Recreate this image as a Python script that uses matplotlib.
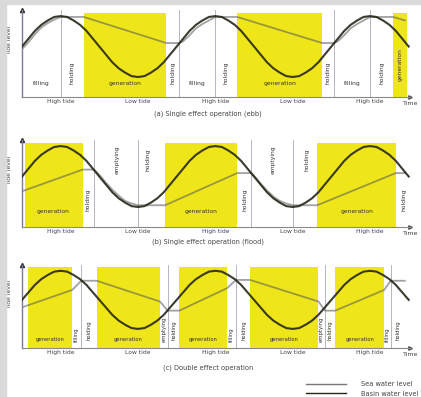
import numpy as np
import matplotlib
matplotlib.use('Agg')  # no display in the sandbox
import matplotlib.pyplot as plt
from matplotlib.patches import Rectangle
from matplotlib.lines import Line2D

# ---- data (time in hours, level as fraction of axis) ----
TIME = np.arange(0, 30.01, 0.5)
SEA_LEVEL = [0.58, 0.67, 0.76, 0.83, 0.88, 0.92, 0.93, 0.92, 0.88, 0.83, 0.76, 0.67,
             0.58, 0.49, 0.40, 0.33, 0.28, 0.24, 0.23, 0.24, 0.28, 0.33, 0.40, 0.49,
             0.58, 0.67, 0.76, 0.83, 0.88, 0.92, 0.93, 0.92, 0.88, 0.83, 0.76, 0.67,
             0.58, 0.49, 0.40, 0.33, 0.28, 0.24, 0.23, 0.24, 0.28, 0.33, 0.40, 0.49,
             0.58, 0.67, 0.76, 0.83, 0.88, 0.92, 0.93, 0.92, 0.88, 0.83, 0.76, 0.67,
             0.58]

TIDE_TICKS = [3, 9, 15, 21, 27]
TIDE_LABELS = ["High tide", "Low tide", "High tide", "Low tide", "High tide"]

# (a) ebb generation
BASIN_A_T = [0, 0.5, 1, 1.5, 2, 2.5, 3, 4.8, 11.2, 12.2, 12.5, 13, 13.5, 14, 14.5, 15,
             16.7, 23.3, 24.2, 24.5, 25, 25.5, 26, 26.5, 27, 28.8, 29.7]
BASIN_A = [0.55, 0.63, 0.72, 0.80, 0.85, 0.89, 0.92, 0.92, 0.62, 0.62, 0.64, 0.71, 0.79,
           0.84, 0.88, 0.92, 0.92, 0.62, 0.62, 0.64, 0.71, 0.79, 0.84, 0.88, 0.92, 0.92, 0.88]
GEN_A = [(4.8, 11.2), (16.7, 23.3), (28.8, 29.9)]
SPLIT_A = [3, 12.2, 15, 24.2, 27]
TEXT_A = [("filling", 1.5, 0.16, 0), ("holding", 3.9, 0.28, 90), ("generation", 8.0, 0.16, 0),
          ("holding", 11.7, 0.28, 90), ("filling", 13.6, 0.16, 0), ("holding", 15.8, 0.28, 90),
          ("generation", 20.0, 0.16, 0), ("holding", 23.75, 0.28, 90), ("filling", 25.6, 0.16, 0),
          ("holding", 27.9, 0.28, 90), ("generation", 29.35, 0.37, 90)]

# (b) flood generation
BASIN_B_T = [0, 4.7, 5.6, 6, 6.5, 7, 7.5, 8, 8.5, 9, 11.1, 16.7, 17.8, 18, 18.5, 19, 19.5,
             20, 20.5, 21, 22.9, 29.0, 29.7]
BASIN_B = [0.41, 0.66, 0.66, 0.60, 0.51, 0.43, 0.36, 0.30, 0.27, 0.25, 0.25, 0.62, 0.62,
           0.59, 0.50, 0.42, 0.35, 0.30, 0.27, 0.25, 0.25, 0.62, 0.62]
GEN_B = [(0.2, 4.7), (11.1, 16.7), (22.9, 29.0)]
SPLIT_B = [5.6, 9, 17.8, 21]
TEXT_B = [("generation", 2.4, 0.18, 0), ("holding", 5.15, 0.31, 90), ("emptying", 7.4, 0.77, 90),
          ("holding", 9.8, 0.77, 90), ("generation", 13.9, 0.18, 0), ("holding", 17.3, 0.31, 90),
          ("emptying", 19.5, 0.77, 90), ("holding", 22.1, 0.77, 90), ("generation", 26.0, 0.18, 0),
          ("holding", 29.6, 0.31, 90)]

# (c) double effect
BASIN_C_T = [0, 3.9, 4.6, 5.8, 10.7, 11.3, 12.2, 15.9, 16.6, 17.7, 23.0, 23.5, 24.3, 28.1,
             28.6, 29.7]
BASIN_C = [0.49, 0.70, 0.81, 0.81, 0.56, 0.45, 0.45, 0.72, 0.82, 0.82, 0.56, 0.45, 0.45,
           0.70, 0.81, 0.81]
GEN_C = [(0.5, 3.9), (5.8, 10.7), (12.2, 15.9), (17.7, 23.0), (24.3, 28.1)]
SPLIT_C = [4.6, 11.3, 16.6, 23.5, 28.6]
TEXT_C = [("generation", 2.2, 0.10, 0), ("filling", 4.25, 0.16, 90), ("holding", 5.2, 0.22, 90),
          ("generation", 8.25, 0.10, 0), ("emptying", 11.0, 0.22, 90), ("holding", 11.8, 0.22, 90),
          ("generation", 14.05, 0.10, 0), ("filling", 16.25, 0.16, 90), ("holding", 17.2, 0.22, 90),
          ("generation", 20.35, 0.10, 0), ("emptying", 23.25, 0.22, 90), ("holding", 23.9, 0.22, 90),
          ("generation", 26.2, 0.10, 0), ("filling", 28.35, 0.16, 90), ("holding", 29.2, 0.22, 90)]

CAPTIONS = ["(a) Single effect operation (ebb)",
            "(b) Single effect operation (flood)",
            "(c) Double effect operation"]

YELLOW = '#efe61a'
SEA_COLOR = '#262618'
BASIN_COLOR = '#555555'
AXIS_COLOR = '#7a7a9a'


def draw_panel(ax, basin_t, basin, gens, splits, texts, fs):
    for a, b in gens:
        ax.axvspan(a, b, ymin=0, ymax=0.97, color=YELLOW, lw=0, zorder=0)
    for x in splits:
        ax.axvline(x, color='#a8a8bc', lw=0.6, zorder=1)
    ax.plot(TIME, SEA_LEVEL, color=SEA_COLOR, lw=1.5, alpha=0.9, zorder=3)
    ax.plot(basin_t, basin, color=BASIN_COLOR, lw=1.3, alpha=0.55, zorder=2)
    for txt, x, y, rot in texts:
        ax.text(x, y, txt, rotation=rot, fontsize=fs, color='#333333',
                ha='center', va='center', zorder=4)

    ax.set_xlim(0, 30.1)
    ax.set_ylim(0, 1)
    ax.set_xticks(TIDE_TICKS)
    ax.set_xticklabels(TIDE_LABELS, fontsize=4.3, color='#444444')
    ax.set_yticks([])
    ax.tick_params(axis='x', length=0, pad=1.5)
    for s in ['top', 'right']:
        ax.spines[s].set_visible(False)
    ax.spines['left'].set_color(AXIS_COLOR)
    ax.spines['left'].set_linewidth(1.0)
    ax.spines['bottom'].set_color('#8a8a8a')
    ax.spines['bottom'].set_linewidth(0.8)
    # axis arrows
    ax.plot([0], [1], marker='^', ms=3, color='#333333', transform=ax.transAxes, clip_on=False)
    ax.plot([1], [0], marker='>', ms=2.5, color='#555555', transform=ax.transAxes, clip_on=False)
    ax.text(-0.031, 0.65, "Tide level", rotation=90, fontsize=4.3, color='#444444',
            transform=ax.transAxes, ha='center', va='center')
    ax.text(0.982, -0.075, "Time", fontsize=4.5, color='#444444',
            transform=ax.transAxes, ha='left', va='center')


fig = plt.figure(figsize=(4.21, 3.97), dpi=100)
fig.patch.set_facecolor('white')
# grey edge of the screenshot
fig.patches.append(Rectangle((0, 0), 6 / 421, 1, transform=fig.transFigure,
                             color='#dadada', zorder=0))
fig.patches.append(Rectangle((0, 1 - 4 / 397), 1, 4 / 397, transform=fig.transFigure,
                             color='#dadada', zorder=0))

left, width = 22 / 421, 388 / 421
ax_a = fig.add_axes([left, 1 - 97 / 397, width, 87 / 397])
ax_b = fig.add_axes([left, 1 - 227 / 397, width, 87 / 397])
ax_c = fig.add_axes([left, 1 - 348 / 397, width, 83 / 397])

draw_panel(ax_a, BASIN_A_T, BASIN_A, GEN_A, SPLIT_A, TEXT_A, 4.3)
draw_panel(ax_b, BASIN_B_T, BASIN_B, GEN_B, SPLIT_B, TEXT_B, 4.3)
draw_panel(ax_c, BASIN_C_T, BASIN_C, GEN_C, SPLIT_C, TEXT_C, 3.8)

for cap, ypx in zip(CAPTIONS, [114, 242, 368]):
    fig.text(208 / 421, 1 - ypx / 397, cap, fontsize=4.8, color='#444444',
             ha='center', va='center')

handles = [Line2D([], [], color='#777777', lw=1.0),
           Line2D([], [], color=SEA_COLOR, lw=1.0)]
fig.legend(handles, ["Sea water level", "Basin water level"], loc='upper left',
           bbox_to_anchor=(306 / 421, 1 - 381 / 397), frameon=False, fontsize=4.8,
           handlelength=6, handletextpad=2.2, labelspacing=0.55, borderpad=0,
           borderaxespad=0, labelcolor='#444444')

fig.savefig('out.png', dpi=100)
